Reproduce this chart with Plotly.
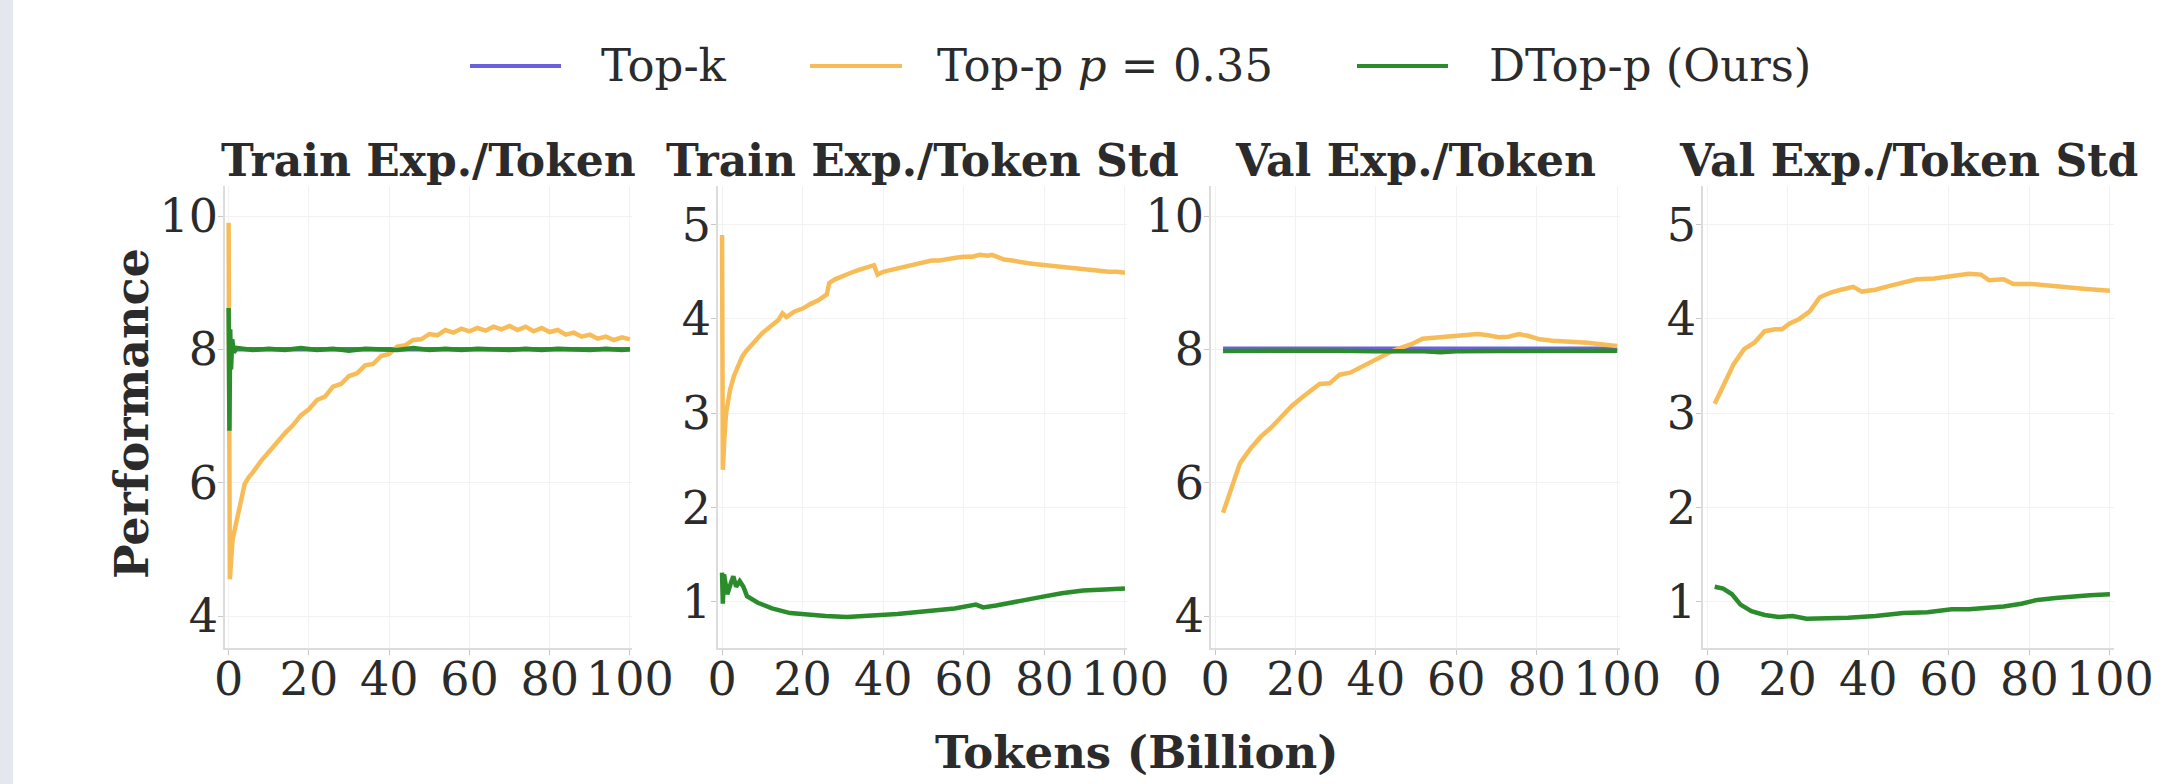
import plotly.graph_objects as go

# ---------------- data ----------------
panel_titles = ["Train Exp./Token", "Train Exp./Token Std", "Val Exp./Token", "Val Exp./Token Std"]
series_names = ["Top-k", "Top-p <i>p</i> = 0.35", "DTop-p (Ours)"]

# Train Exp./Token
train_topk_x = [0, 25, 50, 75, 100]
train_topk_y = [8.0, 8.0, 8.0, 8.0, 8.0]
train_topp_x = [0, 0.3, 1, 2, 3, 4, 5, 6, 8, 10, 12, 14, 16, 18, 20, 22, 24, 26, 28, 30,
                32, 34, 36, 38, 40, 42, 44, 46, 48, 50, 52, 54, 56, 58, 60, 62, 64, 66, 68, 70,
                72, 74, 76, 78, 80, 82, 84, 86, 88, 90, 92, 94, 96, 98, 100]
train_topp_y = [9.90, 4.55, 5.15, 5.45, 5.75, 5.98, 6.08, 6.15, 6.32, 6.47, 6.60, 6.74, 6.86, 7.01, 7.10, 7.24, 7.29, 7.44, 7.48, 7.60,
                7.64, 7.76, 7.78, 7.90, 7.93, 8.04, 8.06, 8.14, 8.15, 8.23, 8.21, 8.29, 8.25, 8.31, 8.27, 8.32, 8.28, 8.34, 8.30, 8.35,
                8.29, 8.34, 8.27, 8.32, 8.26, 8.29, 8.22, 8.25, 8.19, 8.22, 8.16, 8.19, 8.14, 8.18, 8.15]
train_dtopp_x = [0, 0.2, 0.4, 0.6, 0.9, 1.3, 2, 6, 10, 14, 18, 22, 26, 30, 34, 38, 42, 46, 50,
                 54, 58, 62, 66, 70, 74, 78, 82, 86, 90, 94, 98, 100]
train_dtopp_y = [8.62, 6.78, 8.30, 7.70, 8.15, 7.95, 8.02, 7.99, 8.01, 7.99, 8.02, 7.99, 8.01, 7.98, 8.01, 8.00, 7.99, 8.02, 7.99,
                 8.01, 7.99, 8.01, 8.00, 7.99, 8.01, 7.99, 8.01, 8.00, 7.99, 8.01, 7.99, 8.00]

# Train Exp./Token Std
train_std_topp_x = [0, 0.2, 0.6, 1, 2, 3, 4, 5, 6, 8, 10, 12, 14, 15, 16, 18, 20, 22, 24, 26,
                    26.6, 28, 30, 32, 34, 36, 37.7, 38.6, 40, 42, 44, 46, 48, 50, 52, 54, 56, 58, 60, 62,
                    64, 66, 67, 68, 70, 72, 74, 76, 78, 80, 82, 84, 86, 88, 90, 92, 94, 96, 98, 100]
train_std_topp_y = [4.89, 2.40, 2.75, 3.00, 3.25, 3.40, 3.50, 3.60, 3.66, 3.76, 3.85, 3.92, 3.99, 4.06, 4.02, 4.08, 4.11, 4.16, 4.20, 4.26,
                    4.38, 4.42, 4.46, 4.49, 4.52, 4.55, 4.57, 4.47, 4.50, 4.52, 4.54, 4.56, 4.58, 4.60, 4.62, 4.62, 4.64, 4.65, 4.66, 4.66,
                    4.68, 4.67, 4.68, 4.66, 4.63, 4.62, 4.60, 4.59, 4.58, 4.57, 4.56, 4.55, 4.54, 4.53, 4.52, 4.51, 4.51, 4.50, 4.50, 4.49]
train_std_dtopp_x = [0, 0.2, 0.5, 1.3, 2.2, 2.8, 3.5, 4.4, 5.3, 6.2, 8.9, 12.4, 16.9, 21.3, 25.7, 31, 37, 43.5,
                     50.6, 57.7, 63, 64.8, 68, 73.6, 79, 84.3, 89.6, 95, 100]
train_std_dtopp_y = [1.31, 0.98, 1.29, 1.08, 1.20, 1.27, 1.16, 1.22, 1.16, 1.06, 0.99, 0.93, 0.88, 0.86, 0.85, 0.84, 0.85, 0.87,
                     0.90, 0.93, 0.97, 0.94, 0.96, 1.01, 1.05, 1.09, 1.12, 1.13, 1.14]

# Val Exp./Token
val_topk_x = [2, 25, 50, 75, 100]
val_topk_y = [8.01, 8.01, 8.01, 8.01, 8.01]
val_topp_x = [2, 3.7, 6.2, 8.8, 11.4, 14, 16.5, 19.1, 21.7, 24.2, 26, 28.5, 31, 33.6, 36.2, 38.8, 41.4, 44,
              46.5, 49, 51.6, 55, 58.5, 62, 65.3, 67.9, 70.5, 73, 75.6, 78, 80.7, 84, 88.4, 92.7, 97, 100]
val_topp_y = [5.55, 5.87, 6.29, 6.51, 6.69, 6.83, 6.99, 7.15, 7.28, 7.39, 7.48, 7.49, 7.62, 7.65, 7.73, 7.82, 7.90, 7.97,
              8.03, 8.08, 8.16, 8.18, 8.20, 8.22, 8.23, 8.21, 8.18, 8.19, 8.23, 8.20, 8.15, 8.13, 8.12, 8.10, 8.07, 8.05]
val_dtopp_x = [2, 10, 20, 30, 40, 48, 52, 56, 60, 70, 80, 90, 100]
val_dtopp_y = [7.975, 7.98, 7.97, 7.98, 7.97, 7.98, 7.97, 7.955, 7.97, 7.975, 7.98, 7.97, 7.98]

# Val Exp./Token Std
val_std_topp_x = [1.9, 4, 6.6, 9.2, 11.8, 14.3, 16.9, 18.6, 20.4, 22.9, 25.5, 28, 30.7, 33.2, 36.3, 38.4, 41.8,
                  45.3, 48.7, 52, 56.4, 60.7, 65, 68, 70, 73.6, 76, 80.5, 84.8, 89, 93.4, 100]
val_std_topp_y = [3.10, 3.29, 3.52, 3.68, 3.75, 3.87, 3.89, 3.89, 3.95, 4.00, 4.08, 4.23, 4.28, 4.31, 4.34, 4.29, 4.31,
                  4.35, 4.39, 4.42, 4.43, 4.46, 4.48, 4.47, 4.41, 4.42, 4.37, 4.37, 4.35, 4.33, 4.32, 4.30]
val_std_dtopp_x = [1.9, 4, 6.2, 8.3, 11, 14.3, 17.8, 21.2, 24.7, 29, 35, 41.8, 48.7, 54.7, 60.7, 65, 73.6,
                   78, 82, 86.5, 90.8, 95, 100]
val_std_dtopp_y = [1.16, 1.14, 1.08, 0.97, 0.90, 0.86, 0.84, 0.85, 0.82, 0.82, 0.83, 0.85, 0.88, 0.89, 0.92, 0.92, 0.95,
                   0.98, 1.02, 1.04, 1.06, 1.07, 1.08]

x_ticks = [0, 20, 40, 60, 80, 100]
mean_ticks = [4, 6, 8, 10]
std_ticks = [1, 2, 3, 4, 5]

# ---------------- style ----------------
W, H = 2183, 784
BLUE, ORANGE, GREEN = "#6a62dc", "#f7bc57", "#2b8c2b"
TXT = "#2b2b2b"
FONT = "DejaVu Serif"

panel_px = [(225, 632), (718, 1127), (1211, 1620), (1703, 2114)]
plot_top, plot_bottom = 186, 648
x_ranges = [[-0.9, 100.5], [-1.0, 100.5], [-1.0, 100.7], [-1.0, 101.0]]
y_ranges = [[3.52, 10.45], [0.51, 5.41], [3.52, 10.45], [0.51, 5.41]]
y_ticks = [mean_ticks, std_ticks, mean_ticks, std_ticks]

panels = [
    [(train_topk_x, train_topk_y, BLUE), (train_topp_x, train_topp_y, ORANGE), (train_dtopp_x, train_dtopp_y, GREEN)],
    [(train_std_topp_x, train_std_topp_y, ORANGE), (train_std_dtopp_x, train_std_dtopp_y, GREEN)],
    [(val_topk_x, val_topk_y, BLUE), (val_topp_x, val_topp_y, ORANGE), (val_dtopp_x, val_dtopp_y, GREEN)],
    [(val_std_topp_x, val_std_topp_y, ORANGE), (val_std_dtopp_x, val_std_dtopp_y, GREEN)],
]

fig = go.Figure()
layout = dict(
    width=W, height=H, autosize=False, margin=dict(l=0, r=0, t=0, b=0, pad=0, autoexpand=False),
    paper_bgcolor="white", plot_bgcolor="white", showlegend=False,
    font=dict(family=FONT, color=TXT),
)

ydom = [1 - plot_bottom / H, 1 - plot_top / H]
annotations = []
shapes = []

for i, traces in enumerate(panels):
    n = "" if i == 0 else str(i + 1)
    for xs, ys, col in traces:
        fig.add_trace(go.Scatter(x=xs, y=ys, mode="lines", line=dict(color=col, width=4.5),
                                 xaxis="x" + n, yaxis="y" + n, hoverinfo="skip"))
    x0, x1 = panel_px[i]
    axis_common = dict(showline=True, linecolor="#dcdcdc", linewidth=1.5, showgrid=True,
                       gridcolor="#f2f2f2", gridwidth=1, zeroline=False, ticks="outside",
                       ticklen=5, tickwidth=1.2, tickcolor="#c8c8c8", automargin=False,
                       tickfont=dict(family=FONT, size=46, color=TXT))
    layout["xaxis" + n] = dict(axis_common, domain=[x0 / W, x1 / W], range=x_ranges[i],
                               tickvals=x_ticks, anchor="y" + n, ticklabelstandoff=-15)
    layout["yaxis" + n] = dict(axis_common, domain=ydom, range=y_ranges[i],
                               tickvals=y_ticks[i], anchor="x" + n, ticklabelstandoff=-9)
    annotations.append(dict(text="<b>%s</b>" % panel_titles[i], x=(x0 + x1) / 2 / W, y=1 - 161 / H,
                            xref="paper", yref="paper", xanchor="center", yanchor="middle",
                            showarrow=False, font=dict(family=FONT, size=44, color=TXT)))

# axis titles
annotations.append(dict(text="<b>Performance</b>", x=132 / W, y=1 - 414 / H, xref="paper", yref="paper",
                        textangle=-90, xanchor="center", yanchor="middle", showarrow=False,
                        font=dict(family=FONT, size=46, color=TXT)))
annotations.append(dict(text="<b>Tokens (Billion)</b>", x=1137 / W, y=1 - 752 / H, xref="paper", yref="paper",
                        xanchor="center", yanchor="middle", showarrow=False,
                        font=dict(family=FONT, size=45, color=TXT)))

# legend row
legend_items = [(470, 561, 599, BLUE), (810, 902, 935, ORANGE), (1357, 1448, 1487, GREEN)]
for (lx0, lx1, tx, col), name in zip(legend_items, series_names):
    shapes.append(dict(type="line", xref="paper", yref="paper", x0=lx0 / W, x1=lx1 / W,
                       y0=1 - 66 / H, y1=1 - 66 / H, line=dict(color=col, width=4)))
    annotations.append(dict(text=name, x=tx / W, y=1 - 66 / H, xref="paper", yref="paper",
                            xanchor="left", yanchor="middle", showarrow=False,
                            font=dict(family=FONT, size=45, color=TXT)))

# thin grey strip along the left edge
shapes.append(dict(type="rect", xref="paper", yref="paper", x0=0, x1=13 / W, y0=0, y1=1,
                   fillcolor="#e4e8ee", line=dict(width=0), layer="below"))

layout["annotations"] = annotations
layout["shapes"] = shapes
fig.update_layout(**layout)
fig.write_html("out.html", config={"responsive": False})
